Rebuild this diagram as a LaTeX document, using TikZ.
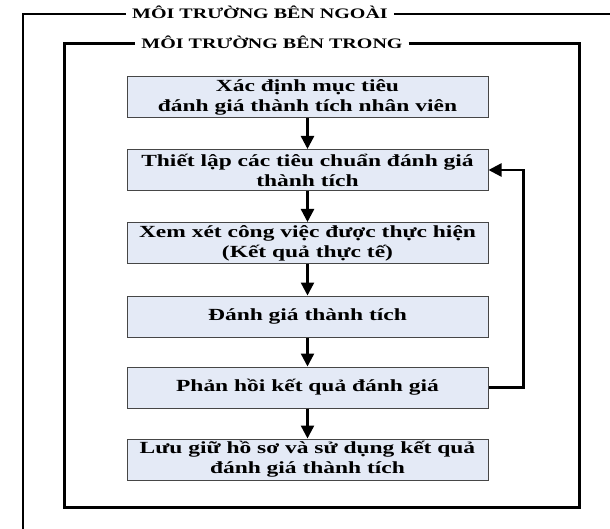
\documentclass[tikz,border=0pt]{standalone}
\usepackage{fontspec}
\newfontfamily\diagfont{Liberation Serif}[FakeStretch=1.38]
\usetikzlibrary{arrows.meta}
\definecolor{boxfill}{RGB}{228,234,246}
\definecolor{boxline}{RGB}{70,70,70}
\begin{document}
\begin{tikzpicture}[x=1pt,y=-1pt,
  stepbox/.style={draw=boxline, line width=1pt, fill=boxfill,
    minimum width=361pt, minimum height=41pt, inner sep=0pt, align=center,
    font=\diagfont\bfseries\fontsize{17}{20}\selectfont},
  flow/.style={line width=2.4pt, -{Triangle[length=13pt,width=13pt]}},
  frametitle/.style={font=\diagfont\bfseries\fontsize{14.5}{17}\selectfont,
    inner xsep=6pt, inner ysep=0pt, anchor=base},
  outerline/.style={line width=2.2pt},
  innerline/.style={line width=3pt},
]
\useasboundingbox (0,0) rectangle (610,529);

% frame corners
\coordinate (otl) at (23,14);
\coordinate (otr) at (610,14);
\coordinate (obl) at (23,529);
\coordinate (itl) at (64,44);
\coordinate (itr) at (579,44);
\coordinate (ibr) at (579,507);
\coordinate (ibl) at (64,507);

% frame titles
\node[frametitle] (outerT) at (260,18.8) {MÔI TRƯỜNG BÊN NGOÀI};
\node[frametitle] (innerT) at (272,48.8) {MÔI TRƯỜNG BÊN TRONG};

% outer environment frame (open at the bottom and right)
\draw[outerline] (obl) -- (otl) -- (otl -| outerT.west);
\draw[outerline] (outerT.east |- otr) -- (otr);

% inner environment frame
\draw[innerline] (innerT.east |- itr) -- (itr) -- (ibr) -- (ibl) -- (itl) -- (itl -| innerT.west);

% process steps
\node[stepbox] (s1) at (307.5,97.5)  {Xác định mục tiêu\\đánh giá thành tích nhân viên};
\node[stepbox] (s2) at (307.5,170)   {Thiết lập các tiêu chuẩn đánh giá\\thành tích};
\node[stepbox] (s3) at (307.5,243)   {Xem xét công việc được thực hiện\\(Kết quả thực tế)};
\node[stepbox] (s4) at (307.5,316.5) {Đánh giá thành tích};
\node[stepbox] (s5) at (307.5,387.5) {Phản hồi kết quả đánh giá};
\node[stepbox] (s6) at (307.5,459.5) {Lưu giữ hồ sơ và sử dụng kết quả\\đánh giá thành tích};

% flow between steps
\draw[flow] (s1) -- (s2);
\draw[flow] (s2) -- (s3);
\draw[flow] (s3) -- (s4);
\draw[flow] (s4) -- (s5);
\draw[flow] (s5) -- (s6);

% feedback loop
\draw[flow] (s5.east) -- ++(35,0) |- (s2.east);
\end{tikzpicture}
\end{document}
